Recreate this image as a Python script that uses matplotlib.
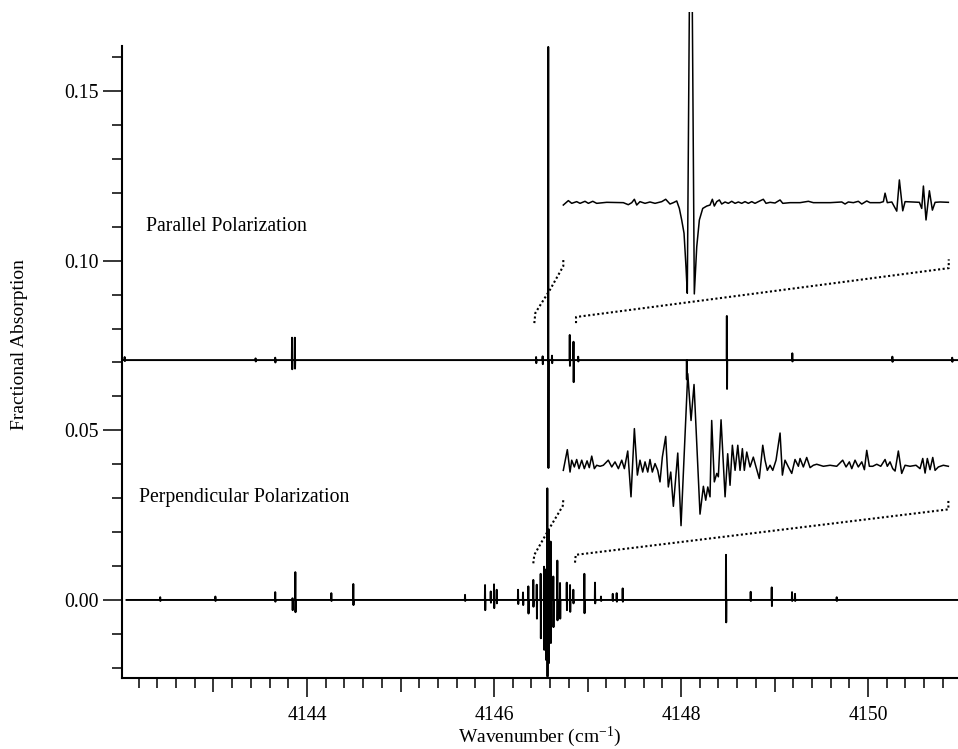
import matplotlib
matplotlib.use('Agg')
from matplotlib import pyplot as plt
from matplotlib.ticker import FixedLocator, FuncFormatter

plt.rcParams['font.family'] = ['Liberation Serif', 'DejaVu Serif']
plt.rcParams['mathtext.fontset'] = 'custom'
plt.rcParams['mathtext.rm'] = 'Liberation Serif'
plt.rcParams['mathtext.it'] = 'Liberation Serif:italic'

# ---- main traces: baseline + spikes (position, top, bottom) ----
par_base = 0.0707
par_x0, par_x1 = 4142.04, 4150.96
par_spike_x = [4142.05, 4143.45, 4143.66, 4143.84, 4143.87, 4146.45, 4146.52,
               4146.58, 4146.62, 4146.81, 4146.85, 4146.90, 4148.06, 4148.49,
               4149.19, 4150.26, 4150.90]
par_spike_top = [0.0716, 0.0712, 0.0714, 0.0773, 0.0773, 0.0716, 0.0718,
                 0.1630, 0.0720, 0.0781, 0.0761, 0.0717, 0.0707, 0.0837,
                 0.0727, 0.0717, 0.0714]
par_spike_bot = [0.0704, 0.0703, 0.0700, 0.0680, 0.0682, 0.0698, 0.0695,
                 0.0389, 0.0698, 0.0690, 0.0642, 0.0703, 0.0650, 0.0622,
                 0.0703, 0.0702, 0.0702]

perp_base = 0.0
perp_x0, perp_x1 = 4142.07, 4150.96
perp_spike_x = [4142.43, 4143.02, 4143.66, 4143.845, 4143.875, 4144.26, 4144.495,
                4145.69, 4145.904, 4145.965, 4146.00, 4146.029, 4146.257, 4146.31,
                4146.367, 4146.42, 4146.457, 4146.499, 4146.535, 4146.556, 4146.570,
                4146.585, 4146.606, 4146.634, 4146.677, 4146.706, 4146.778, 4146.813,
                4146.848, 4146.966, 4147.080, 4147.144, 4147.27, 4147.312, 4147.376,
                4148.481, 4148.745, 4148.97, 4149.187, 4149.219, 4149.665]
perp_spike_top = [0.0008, 0.0010, 0.0023, 0.0005, 0.0082, 0.0020, 0.0047,
                  0.0015, 0.0044, 0.0025, 0.0046, 0.0030, 0.0030, 0.0022,
                  0.0040, 0.0059, 0.0045, 0.0077, 0.0098, 0.0090, 0.0329,
                  0.0206, 0.0172, 0.0069, 0.0116, 0.0050, 0.0051, 0.0044,
                  0.0030, 0.0077, 0.0051, 0.0010, 0.0018, 0.0020, 0.0034,
                  0.0133, 0.0024, 0.0037, 0.0023, 0.0018, 0.0008]
perp_spike_bot = [-0.0003, -0.0003, -0.0005, -0.0030, -0.0036, -0.0003, -0.0015,
                  -0.0003, -0.0030, -0.0008, -0.0024, -0.0010, -0.0012, -0.0015,
                  -0.0040, -0.0020, -0.0055, -0.0113, -0.0147, -0.0177, -0.0226,
                  -0.0186, -0.0127, -0.0080, -0.0060, -0.0055, -0.0030, -0.0035,
                  -0.0010, -0.0039, -0.0010, -0.0003, -0.0003, -0.0005, -0.0005,
                  -0.0066, -0.0003, -0.0018, -0.0003, -0.0003, -0.0003]

# ---- expanded views (drawn in main-axis units) ----
par_inset_x = [4146.741, 4146.795, 4146.831, 4146.884, 4146.920, 4146.973, 4147.009,
               4147.056, 4147.098, 4147.205, 4147.383, 4147.436, 4147.473, 4147.501,
               4147.526, 4147.561, 4147.615, 4147.668, 4147.722, 4147.794, 4147.836,
               4147.882, 4147.918, 4147.954, 4147.982, 4148.007, 4148.032, 4148.053,
               4148.067, 4148.105, 4148.142, 4148.168, 4148.196, 4148.232, 4148.275,
               4148.310, 4148.335, 4148.356, 4148.382, 4148.410, 4148.435, 4148.471,
               4148.506, 4148.542, 4148.578, 4148.613, 4148.649, 4148.684, 4148.720,
               4148.756, 4148.791, 4148.827, 4148.880, 4148.909, 4148.952, 4149.005,
               4149.059, 4149.088, 4149.166, 4149.273, 4149.362, 4149.415, 4149.594,
               4149.719, 4149.754, 4149.789, 4149.843, 4149.896, 4149.933, 4149.986,
               4150.021, 4150.128, 4150.164, 4150.182, 4150.206, 4150.254, 4150.307,
               4150.335, 4150.371, 4150.396, 4150.549, 4150.574, 4150.592, 4150.620,
               4150.656, 4150.688, 4150.717, 4150.770, 4150.859]
par_inset_y = [0.1164, 0.1177, 0.1169, 0.1174, 0.1169, 0.1175, 0.1169,
               0.1175, 0.1169, 0.1172, 0.1171, 0.1165, 0.1171, 0.1181,
               0.1164, 0.1174, 0.1169, 0.1173, 0.1169, 0.1174, 0.1181,
               0.1167, 0.1171, 0.1176, 0.1154, 0.1120, 0.1081, 0.0982,
               0.0904, 0.2358, 0.0902, 0.1041, 0.1120, 0.1154, 0.1161,
               0.1164, 0.1181, 0.1161, 0.1174, 0.1179, 0.1167, 0.1173,
               0.1169, 0.1175, 0.1169, 0.1173, 0.1169, 0.1174, 0.1169,
               0.1174, 0.1169, 0.1174, 0.1181, 0.1169, 0.1172, 0.1170,
               0.1179, 0.1169, 0.1171, 0.1171, 0.1175, 0.1171, 0.1171,
               0.1173, 0.1167, 0.1173, 0.1171, 0.1175, 0.1167, 0.1176,
               0.1171, 0.1171, 0.1174, 0.1199, 0.1171, 0.1173, 0.1146,
               0.1238, 0.1147, 0.1174, 0.1172, 0.1154, 0.1220, 0.1120,
               0.1206, 0.1149, 0.1172, 0.1173, 0.1172]

perp_inset_x = [4146.741, 4146.784, 4146.813, 4146.831, 4146.859, 4146.884, 4146.909,
                4146.938, 4146.966, 4146.995, 4147.019, 4147.045, 4147.073, 4147.098,
                4147.134, 4147.169, 4147.222, 4147.259, 4147.294, 4147.330, 4147.366,
                4147.394, 4147.430, 4147.465, 4147.501, 4147.533, 4147.561, 4147.590,
                4147.615, 4147.644, 4147.668, 4147.693, 4147.722, 4147.751, 4147.775,
                4147.800, 4147.836, 4147.864, 4147.890, 4147.918, 4147.965, 4148.000,
                4148.072, 4148.107, 4148.139, 4148.203, 4148.239, 4148.264, 4148.286,
                4148.310, 4148.328, 4148.356, 4148.382, 4148.399, 4148.428, 4148.471,
                4148.499, 4148.524, 4148.549, 4148.578, 4148.607, 4148.631, 4148.656,
                4148.677, 4148.703, 4148.738, 4148.773, 4148.802, 4148.837, 4148.874,
                4148.898, 4148.923, 4148.952, 4148.981, 4149.016, 4149.059, 4149.084,
                4149.112, 4149.148, 4149.184, 4149.219, 4149.255, 4149.273, 4149.308,
                4149.344, 4149.380, 4149.415, 4149.451, 4149.522, 4149.594, 4149.665,
                4149.729, 4149.765, 4149.800, 4149.826, 4149.861, 4149.896, 4149.933,
                4149.961, 4149.986, 4150.014, 4150.050, 4150.093, 4150.136, 4150.182,
                4150.206, 4150.235, 4150.264, 4150.289, 4150.324, 4150.360, 4150.396,
                4150.449, 4150.513, 4150.556, 4150.585, 4150.610, 4150.634, 4150.663,
                4150.692, 4150.717, 4150.752, 4150.805, 4150.859]
perp_inset_y = [0.0382, 0.0443, 0.0377, 0.0412, 0.0392, 0.0414, 0.0387,
                0.0412, 0.0387, 0.0410, 0.0390, 0.0424, 0.0387, 0.0397,
                0.0394, 0.0397, 0.0412, 0.0392, 0.0407, 0.0387, 0.0412,
                0.0387, 0.0439, 0.0304, 0.0505, 0.0368, 0.0412, 0.0377,
                0.0407, 0.0377, 0.0414, 0.0377, 0.0402, 0.0382, 0.0348,
                0.0421, 0.0482, 0.0333, 0.0377, 0.0276, 0.0433, 0.0219,
                0.0667, 0.0529, 0.0635, 0.0253, 0.0335, 0.0294, 0.0333,
                0.0304, 0.0529, 0.0348, 0.0373, 0.0363, 0.0531, 0.0304,
                0.0431, 0.0338, 0.0456, 0.0382, 0.0456, 0.0382, 0.0446,
                0.0382, 0.0436, 0.0392, 0.0421, 0.0392, 0.0358, 0.0456,
                0.0412, 0.0382, 0.0397, 0.0382, 0.0412, 0.0492, 0.0368,
                0.0412, 0.0392, 0.0373, 0.0414, 0.0394, 0.0417, 0.0392,
                0.0420, 0.0390, 0.0397, 0.0400, 0.0394, 0.0397, 0.0394,
                0.0412, 0.0392, 0.0407, 0.0387, 0.0412, 0.0392, 0.0407,
                0.0384, 0.0441, 0.0394, 0.0394, 0.0400, 0.0394, 0.0414,
                0.0394, 0.0407, 0.0387, 0.0380, 0.0439, 0.0373, 0.0397,
                0.0394, 0.0397, 0.0387, 0.0417, 0.0374, 0.0417, 0.0384,
                0.0420, 0.0382, 0.0392, 0.0397, 0.0394]

# dotted brackets linking the trace to its expanded view
par_brk_left_x = [4146.431, 4146.442, 4146.600, 4146.741, 4146.741]
par_brk_left_y = [0.0816, 0.0846, 0.0915, 0.0984, 0.1004]
par_brk_right_x = [4146.877, 4146.877, 4150.863, 4150.863]
par_brk_right_y = [0.0816, 0.0834, 0.0978, 0.1004]
perp_brk_left_x = [4146.420, 4146.431, 4146.590, 4146.735, 4146.741]
perp_brk_left_y = [0.0108, 0.0133, 0.0210, 0.0277, 0.0295]
perp_brk_right_x = [4146.866, 4146.874, 4150.859, 4150.859]
perp_brk_right_y = [0.0110, 0.0133, 0.0267, 0.0297]


def spike_trace(x0, x1, base, sx, top, bot, d=0.002):
    xs, ys = [x0], [base]
    for x, t, b in sorted(zip(sx, top, bot)):
        xs += [x - d, x, x + d, x + 2*d]
        ys += [base, t, b, base]
    xs.append(x1)
    ys.append(base)
    return xs, ys


fig = plt.figure(figsize=(9.58, 7.49), dpi=100)
ax = fig.add_axes([0.1273, 0.0948, 0.8727, 0.8892])

k = 'black'
px, py = spike_trace(par_x0, par_x1, par_base, par_spike_x, par_spike_top, par_spike_bot)
ax.plot(px, py, c=k, lw=1.4)
qx, qy = spike_trace(perp_x0, perp_x1, perp_base, perp_spike_x, perp_spike_top, perp_spike_bot)
ax.plot(qx, qy, c=k, lw=1.4)

ax.plot(par_inset_x, par_inset_y, c=k, lw=1.1)
ax.plot(perp_inset_x, perp_inset_y, c=k, lw=1.1)

dots = (0, (1, 1.2))
for bx, by in [(par_brk_left_x, par_brk_left_y), (par_brk_right_x, par_brk_right_y),
               (perp_brk_left_x, perp_brk_left_y), (perp_brk_right_x, perp_brk_right_y)]:
    ax.plot(bx, by, c=k, lw=1.5, ls=dots)

ax.text(4142.28, 0.1102, 'Parallel Polarization', fontsize=14.2, va='center')
ax.text(4142.20, 0.0301, 'Perpendicular Polarization', fontsize=14.2, va='center')

ax.set_xlim(4142.021, 4150.962)
ax.set_ylim(-0.0230, 0.1733)

for s in ['top', 'right']:
    ax.spines[s].set_visible(False)
for s in ['left', 'bottom']:
    ax.spines[s].set_linewidth(1.5)
ax.spines['left'].set_bounds(-0.0230, 0.1633)

xmaj = list(range(4143, 4151))
ax.xaxis.set_major_locator(FixedLocator(xmaj))
ax.xaxis.set_minor_locator(FixedLocator([4142.2 + 0.2*i for i in range(44)]))
ax.xaxis.set_major_formatter(FuncFormatter(lambda v, p: '%d' % v if round(v) % 2 == 0 else ''))
ax.yaxis.set_major_locator(FixedLocator([0.0, 0.05, 0.10, 0.15]))
ax.yaxis.set_minor_locator(FixedLocator([0.01*i for i in range(-2, 17)]))
ax.yaxis.set_major_formatter(FuncFormatter(lambda v, p: '%.2f' % v))

ax.tick_params(which='major', length=10, width=1.1, labelsize=14.3)
ax.tick_params(which='minor', length=7, width=1.1)
ax.tick_params(axis='y', which='major', length=14, pad=3)
ax.tick_params(axis='x', which='major', pad=10)
fig.canvas.draw()
for t in ax.xaxis.get_major_ticks():
    if round(t.get_loc()) % 2 == 0:
        t.tick1line.set_markersize(14)

ax.set_xlabel('Wavenumber (cm$^{-1}$)', fontsize=14, labelpad=0)
ax.set_ylabel('Fractional Absorption', fontsize=14, labelpad=26)

fig.savefig('out.png', dpi=100)
